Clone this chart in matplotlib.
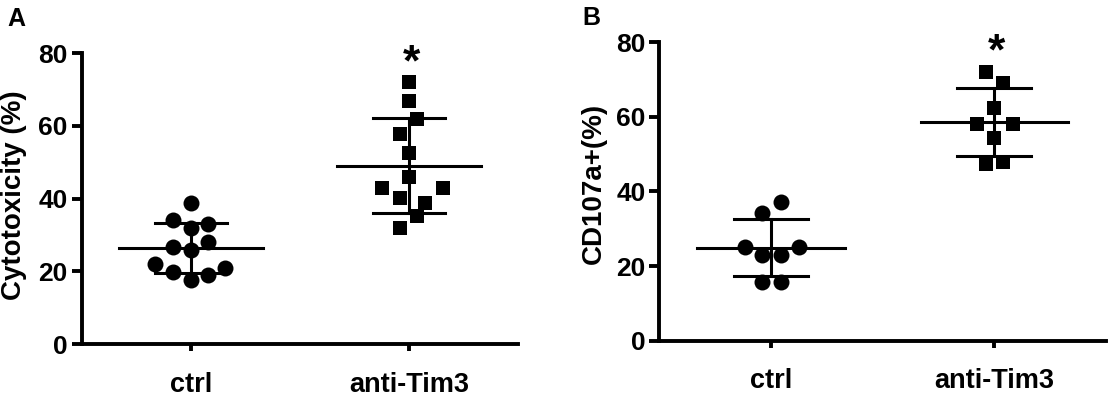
#!/bin/python3
# -*- coding: utf-8 -*-

import numpy as np
import matplotlib as mplt
mplt.use("Agg")
import matplotlib.pyplot as plt

mplt.rcParams["font.family"] = ["Liberation Sans", "DejaVu Sans"]
mplt.rcParams["font.weight"] = "bold"

groups = ["ctrl", "anti-Tim3"]

# panel A: cytotoxicity (%)
cyto_ctrl = [38.7, 34.1, 33.0, 31.8, 26.7, 28.1, 25.8, 21.9, 21.0, 19.9, 19.0, 17.6]
cyto_anti = [72.1, 67.0, 61.8, 57.9, 52.7, 46.0, 42.9, 42.9, 40.2, 38.8, 35.2, 32.0]

# panel B: CD107a+ (%)
cd107_ctrl = [37.1, 34.3, 25.0, 25.0, 23.0, 23.0, 15.8, 15.8]
cd107_anti = [72.1, 69.2, 62.3, 58.1, 58.1, 54.3, 47.4, 47.8]

# sideways spread of the dots, in category units
cyto_ctrl_dx = [0, -0.082, 0.078, 0, -0.082, 0.078, 0, -0.163, 0.155, -0.082, 0.078, 0]
cyto_anti_dx = [0, 0, 0.036, -0.041, 0, 0, -0.123, 0.155, -0.041, 0.074, 0.036, -0.041]
cd107_ctrl_dx = [0.044, -0.039, -0.118, 0.126, -0.039, 0.043, -0.039, 0.043]
cd107_anti_dx = [-0.038, 0.041, 0, -0.079, 0.084, 0, -0.038, 0.041]

LW = 2.8      # axis lines
BAR_LW = 2.2  # mean / SD lines


def mean_sd(ax, x, vals, half=0.33, cap=0.166):
    m = np.mean(vals)
    s = np.std(vals, ddof=1)
    ax.plot([x - half, x + half], [m, m], color="black", lw=BAR_LW, zorder=2)
    ax.plot([x - cap, x + cap], [m + s, m + s], color="black", lw=BAR_LW, zorder=2)
    ax.plot([x - cap, x + cap], [m - s, m - s], color="black", lw=BAR_LW, zorder=2)
    ax.plot([x, x], [m - s, m + s], color="black", lw=BAR_LW, zorder=2)


def draw_panel(ax, ctrl, anti, ctrl_dx, anti_dx, ylabel, label_xy):
    ax.plot(np.array(ctrl_dx) + 0, ctrl, "o", color="black", ms=11.5, mew=0, zorder=3)
    ax.plot(np.array(anti_dx) + 1, anti, "s", color="black", ms=10.3, mew=0, zorder=3)

    mean_sd(ax, 0, ctrl)
    mean_sd(ax, 1, anti)

    # significance star
    ax.text(1.01, 74, "*", ha="center", va="baseline", fontsize=32,
            fontweight="bold", clip_on=False)

    ax.set_xlim(-0.5, 1.5)
    ax.set_ylim(0, 80)
    ax.set_yticks([0, 20, 40, 60, 80])
    ax.set_xticks([0, 1])
    ax.set_xticklabels(groups, fontsize=19.5, fontweight="bold")
    for t in ax.get_yticklabels():
        t.set_fontsize(19)
        t.set_fontweight("bold")

    ax.set_ylabel(ylabel, fontsize=20, fontweight="bold")
    ax.yaxis.set_label_coords(*label_xy)

    for side in ["top", "right"]:
        ax.spines[side].set_visible(False)
    for side in ["left", "bottom"]:
        ax.spines[side].set_linewidth(LW)

    ax.tick_params(axis="y", direction="out", length=7, width=LW, pad=3)
    ax.tick_params(axis="x", direction="out", length=5, width=LW, pad=15)


fig = plt.figure(figsize=(11.1, 3.99), dpi=100)

axA = fig.add_axes([0.0736, 0.1378, 0.3933, 0.7286])
draw_panel(axA, cyto_ctrl, cyto_anti, cyto_ctrl_dx, cyto_anti_dx,
           "Cytotoxicity (%)", (-0.126, 0.513))

axB = fig.add_axes([0.594, 0.1461, 0.4023, 0.748])
draw_panel(axB, cd107_ctrl, cd107_anti, cd107_ctrl_dx, cd107_anti_dx,
           "CD107a+(%)", (-0.117, 0.527))

# panel letters
fig.text(0.007, 0.982, "A", fontsize=18, fontweight="bold", va="top", ha="left")
fig.text(0.525, 0.984, "B", fontsize=18, fontweight="bold", va="top", ha="left")

fig.savefig("out.png", dpi=100)
